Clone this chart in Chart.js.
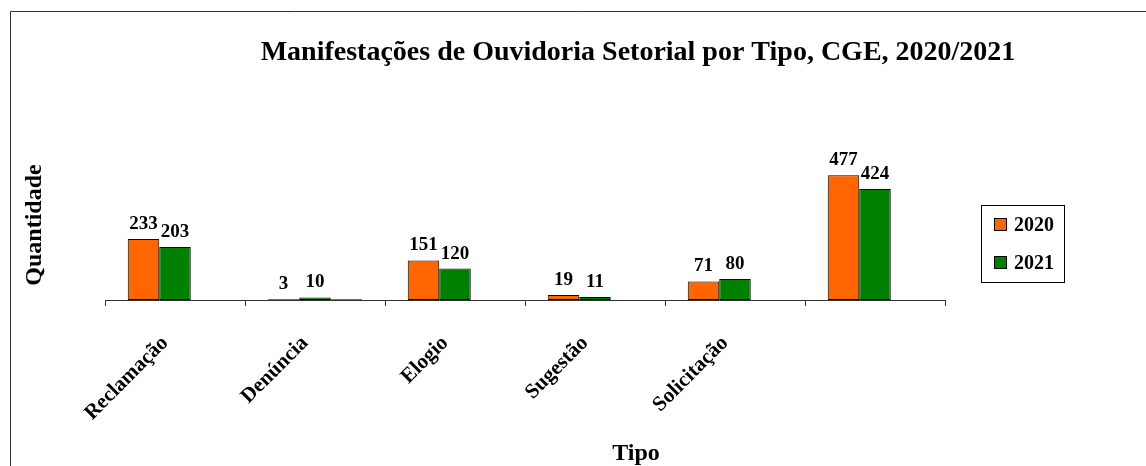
<!DOCTYPE html>
<html><head><meta charset="utf-8">
<script src="https://cdn.jsdelivr.net/npm/chart.js@4"></script>
<style>html,body{margin:0;padding:0;background:#fff}#wrap{width:1146px;height:466px;position:relative}</style>
</head><body><div id="wrap"><canvas id="c" width="1146" height="466"></canvas></div>
<script>
const categories = ['Reclamação','Denúncia','Elogio','Sugestão','Solicitação',''];
const values2020 = [233,3,151,19,71,477];
const values2021 = [203,10,120,11,80,424];
const valuesExtra = [null,3,null,null,null,null];
const seriesNames = ['2020','2021',''];
const chartTitle = 'Manifestações de Ouvidoria Setorial por Tipo, CGE, 2020/2021';
const xTitle = 'Tipo';
const yTitle = 'Quantidade';

const SERIF = "'Liberation Serif','Times New Roman',serif";

const overlay = {
  id: 'overlay',
  afterDraw(chart) {
    const ctx = chart.ctx;
    ctx.save();
    // frame
    ctx.strokeStyle = '#333';
    ctx.lineWidth = 1;
    ctx.beginPath();
    ctx.moveTo(10.5, 466); ctx.lineTo(10.5, 11.5); ctx.lineTo(1146, 11.5);
    ctx.stroke();
    // title
    ctx.fillStyle = '#000';
    ctx.textAlign = 'center';
    ctx.textBaseline = 'alphabetic';
    ctx.font = "bold 28px " + SERIF;
    ctx.fillText(chartTitle, 638, 60);
    // x title
    ctx.font = "bold 24px " + SERIF;
    ctx.fillText(xTitle, 636, 460);
    // y title
    ctx.save();
    ctx.translate(41, 225);
    ctx.rotate(-Math.PI/2);
    ctx.textAlign = 'center';
    ctx.font = "bold 24px " + SERIF;
    ctx.fillText(yTitle, 0, 0);
    ctx.restore();
    // data labels
    ctx.font = "bold 19px " + SERIF;
    ctx.textAlign = 'center';
    [0,1].forEach(di => {
      const meta = chart.getDatasetMeta(di);
      const data = chart.data.datasets[di].data;
      meta.data.forEach((bar, i) => {
        if (data[i] == null) return;
        ctx.fillText(String(data[i]), bar.x, bar.y - 10);
      });
    });
    // legend
    ctx.strokeStyle = '#000';
    ctx.strokeRect(981.5, 205.5, 83, 77);
    ctx.font = "bold 20px " + SERIF;
    ctx.textAlign = 'left';
    ctx.textBaseline = 'middle';
    [0,1].forEach((di, k) => {
      const ds = chart.data.datasets[di];
      const y = 218 + k * 38;
      ctx.fillStyle = ds.backgroundColor;
      ctx.fillRect(994, y, 13, 13);
      ctx.strokeStyle = '#000';
      ctx.strokeRect(994.5, y + 0.5, 12, 12);
      ctx.fillStyle = '#000';
      ctx.fillText(ds.label, 1014, y + 8);
    });
    ctx.restore();
  }
};

new Chart(document.getElementById('c'), {
  type: 'bar',
  data: {
    labels: categories,
    datasets: [
      {label: seriesNames[0], data: values2020, backgroundColor: '#FF6600', borderColor: '#000', borderWidth: 1, borderSkipped: false},
      {label: seriesNames[1], data: values2021, backgroundColor: '#008000', borderColor: '#000', borderWidth: 1, borderSkipped: false},
      {label: seriesNames[2], data: valuesExtra, backgroundColor: '#2a1a10', borderColor: '#000', borderWidth: 1, borderSkipped: false}
    ]
  },
  options: {
    responsive: false,
    animation: false,
    devicePixelRatio: 1,
    layout: {padding: {left: 105, right: 201, top: 143, bottom: 0}},
    datasets: {bar: {categoryPercentage: 0.675, barPercentage: 1.0}},
    plugins: {legend: {display: false}, title: {display: false}, tooltip: {enabled: false}},
    scales: {
      x: {
        offset: true,
        grid: {offset: true, drawOnChartArea: false, drawTicks: true, tickLength: 6, color: '#333', lineWidth: 1},
        border: {display: true, color: '#333', width: 1},
        ticks: {maxRotation: 45, minRotation: 45, autoSkip: false, padding: 25, labelOffset: -10, color: '#000',
                font: {family: SERIF, weight: 'bold', size: 21}},
        afterFit: s => { s.height = 166; }
      },
      y: {display: false, min: 0, max: 600}
    }
  },
  plugins: [overlay]
});
</script></body></html>
